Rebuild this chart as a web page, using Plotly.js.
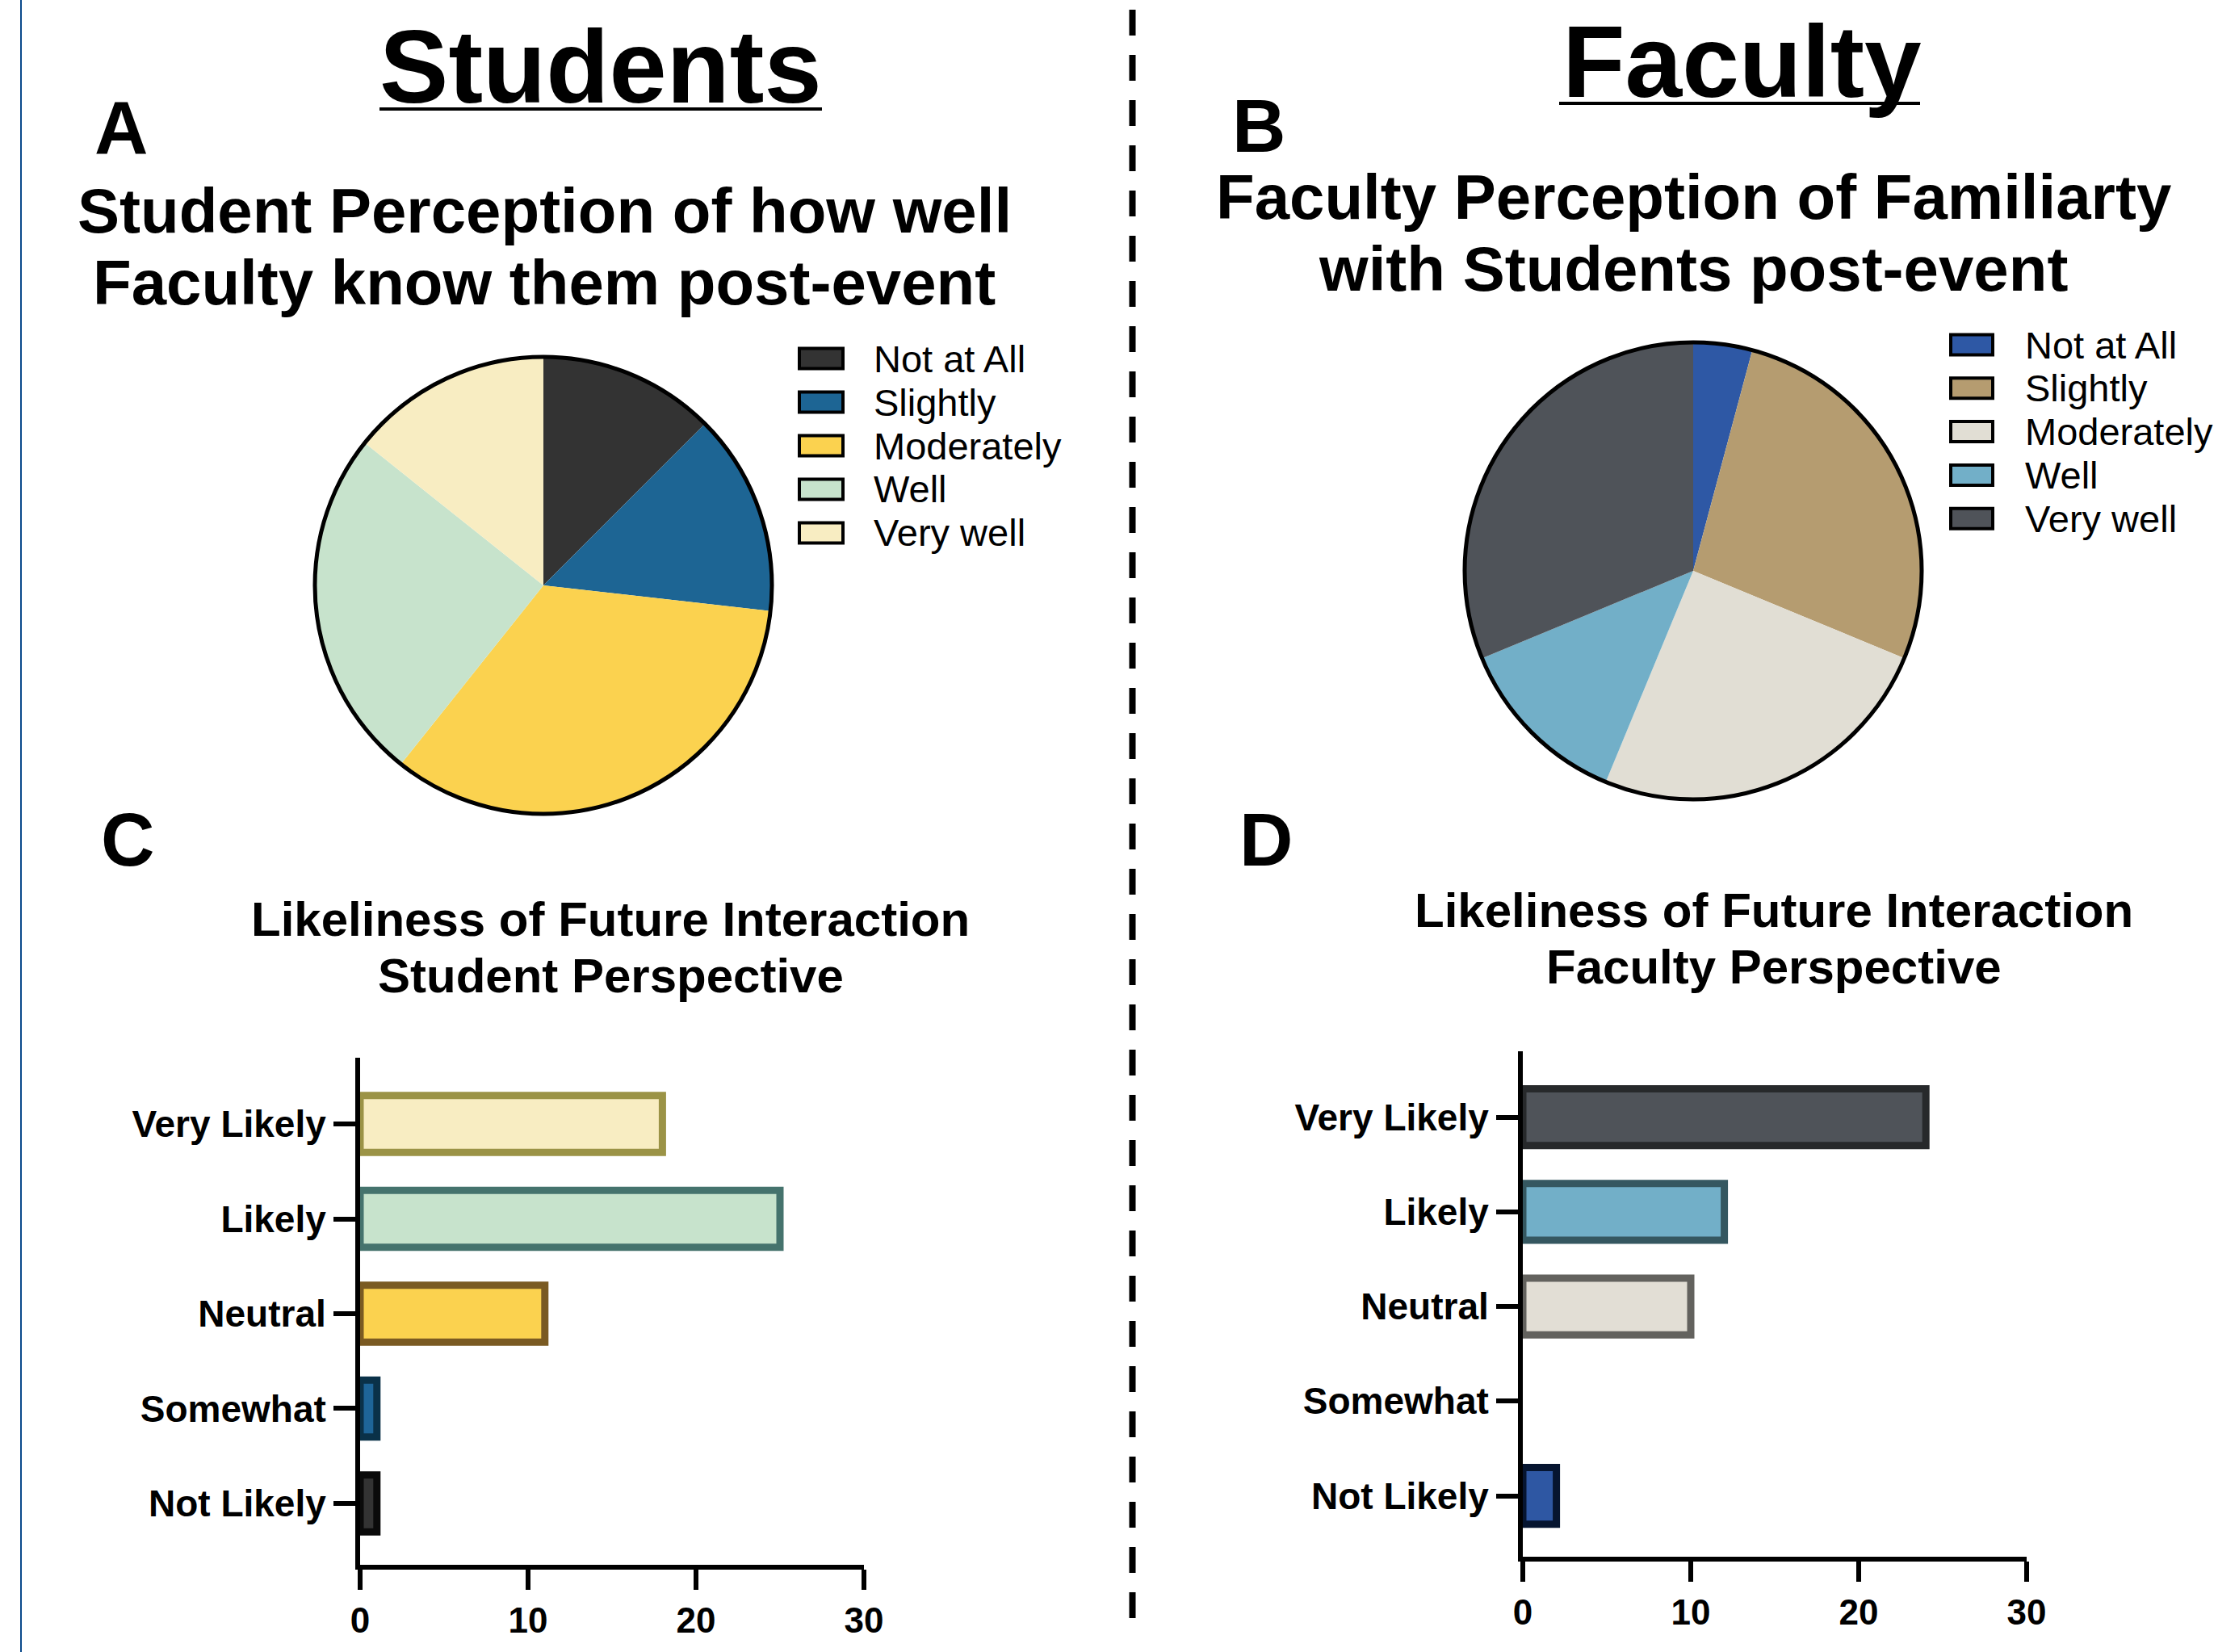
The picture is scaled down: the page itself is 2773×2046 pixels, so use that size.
<!DOCTYPE html>
<html>
<head>
<meta charset="utf-8">
<script src="https://cdn.plot.ly/plotly-3.0.1.min.js"></script>
<style>
html,body{margin:0;padding:0;background:#ffffff;}
#chart{width:2773px;height:2046px;}
</style>
</head>
<body>
<div id="chart"></div>
<script>
// ---------------- DATA ----------------
const pieLabels = ['Not at All', 'Slightly', 'Moderately', 'Well', 'Very well'];
const studentPieValues = [7, 8, 19, 14, 8];
const facultyPieValues = [2, 13, 12, 6, 15];
const studentPieColors = ['#333333', '#1D6594', '#FBD24F', '#C7E3CC', '#F8EDC2'];
const facultyPieColors = ['#2E58A5', '#B59C70', '#E1DED4', '#72AFC8', '#4F5359'];

const likertLabels = ['Not Likely', 'Somewhat', 'Neutral', 'Likely', 'Very Likely'];
const studentBarValues = [1, 1, 11, 25, 18];
const facultyBarValues = [2, 0, 10, 12, 24];
const studentBarFill = ['#333333', '#1E6598', '#FBD24F', '#C7E3CC', '#F8EDC2'];
const studentBarEdge = ['#0A0A0A', '#0A3148', '#7A5A22', '#45736D', '#9B9346'];
const facultyBarFill = ['#2E57A3', '#E2DED5', '#E2DED5', '#72AFC8', '#4F5359'];
const facultyBarEdge = ['#061530', '#63625E', '#63625E', '#355760', '#27292B'];

const xTickValues = [0, 10, 20, 30];

const headingStudents = 'Students';
const headingFaculty = 'Faculty';
const panelLetters = ['A', 'B', 'C', 'D'];
const titleA = ['Student Perception of how well', 'Faculty know them post-event'];
const titleB = ['Faculty Perception of Familiarty', 'with Students post-event'];
const titleC = ['Likeliness of Future Interaction', 'Student Perspective'];
const titleD = ['Likeliness of Future Interaction', 'Faculty Perspective'];

// ---------------- LAYOUT HELPERS ----------------
const W = 2773, H = 2046;
const FONT = 'Liberation Sans, Arial, Helvetica, sans-serif';
const px = v => v / W;
const py = v => 1 - v / H;

function pieDomain(cx, cy, r) {
  return { x: [px(cx - r), px(cx + r)], y: [py(cy + r), py(cy - r)] };
}

const annotations = [];
const shapes = [];

function textAt(text, cx, baseline, size, bold, anchor) {
  annotations.push({
    text: text, xref: 'paper', yref: 'paper',
    x: px(cx), y: py(baseline - 0.3465 * size),
    xanchor: anchor || 'center', yanchor: 'middle',
    showarrow: false,
    font: { family: FONT, size: size, color: '#000000', weight: bold ? 700 : 400 }
  });
}

// Headings
textAt(headingStudents, 744, 127, 128, true);
textAt(headingFaculty, 2157, 120, 127, true);
shapes.push({ type: 'line', xref: 'paper', yref: 'paper', x0: px(470), x1: px(1018), y0: py(135), y1: py(135), line: { color: '#000', width: 4 } });
shapes.push({ type: 'line', xref: 'paper', yref: 'paper', x0: px(1931), x1: px(2378), y0: py(128), y1: py(128), line: { color: '#000', width: 4 } });

// Panel letters
textAt(panelLetters[0], 150, 190, 92, true);
textAt(panelLetters[1], 1559, 188, 92, true);
textAt(panelLetters[2], 158, 1072, 92, true);
textAt(panelLetters[3], 1568, 1072, 92, true);

// Chart titles
textAt(titleA[0], 674, 288, 78, true);
textAt(titleA[1], 674, 377, 78, true);
textAt(titleB[0], 2097, 271, 78, true);
textAt(titleB[1], 2097, 360, 78, true);
textAt(titleC[0], 756, 1159, 60, true);
textAt(titleC[1], 756, 1229, 60, true);
textAt(titleD[0], 2197, 1148, 60, true);
textAt(titleD[1], 2197, 1218, 60, true);

// Legends (built from the category and colour arrays)
function legend(colors, swX0, swX1, textX, firstY, step) {
  pieLabels.forEach((lab, i) => {
    const cy = firstY + step * i;
    shapes.push({ type: 'rect', xref: 'paper', yref: 'paper',
      x0: px(swX0), x1: px(swX1), y0: py(cy + 12.5), y1: py(cy - 12.5),
      fillcolor: colors[i], line: { color: '#000000', width: 4 } });
    annotations.push({
      text: lab, xref: 'paper', yref: 'paper', x: px(textX), y: py(cy),
      xanchor: 'left', yanchor: 'middle', showarrow: false,
      font: { family: FONT, size: 47, color: '#000000' }
    });
  });
}
legend(studentPieColors, 990, 1044, 1080, 444, 54);
legend(facultyPieColors, 2416, 2468, 2506, 427, 53.8);

// Separators
shapes.push({ type: 'line', xref: 'paper', yref: 'paper', x0: px(26), x1: px(26), y0: 1, y1: 0, line: { color: '#0B4A8B', width: 2 } });
shapes.push({ type: 'line', xref: 'paper', yref: 'paper', x0: px(1402.5), x1: px(1402.5), y0: py(12), y1: py(2004), line: { color: '#000000', width: 8, dash: '32px,24px' } });

// ---------------- TRACES ----------------
const domA = pieDomain(673, 725, 283);
const domB = pieDomain(2097, 707, 283);
const edgeWidths = vals => vals.map(v => (v > 0 ? 9 : 0));

const traces = [
  { type: 'pie', labels: pieLabels, values: studentPieValues, domain: domA,
    marker: { colors: studentPieColors, line: { width: 0 } },
    sort: false, direction: 'clockwise', rotation: 0, textinfo: 'none',
    hoverinfo: 'label+value', showlegend: false },
  { type: 'pie', labels: ['outline'], values: [1], domain: domA,
    marker: { colors: ['rgba(0,0,0,0)'], line: { color: '#000000', width: 5 } },
    textinfo: 'none', hoverinfo: 'skip', showlegend: false },
  { type: 'pie', labels: pieLabels, values: facultyPieValues, domain: domB,
    marker: { colors: facultyPieColors, line: { width: 0 } },
    sort: false, direction: 'clockwise', rotation: 0, textinfo: 'none',
    hoverinfo: 'label+value', showlegend: false },
  { type: 'pie', labels: ['outline'], values: [1], domain: domB,
    marker: { colors: ['rgba(0,0,0,0)'], line: { color: '#000000', width: 5 } },
    textinfo: 'none', hoverinfo: 'skip', showlegend: false },
  { type: 'bar', orientation: 'h', y: likertLabels, x: studentBarValues,
    xaxis: 'x', yaxis: 'y', showlegend: false,
    marker: { color: studentBarFill, line: { color: studentBarEdge, width: edgeWidths(studentBarValues) } } },
  { type: 'bar', orientation: 'h', y: likertLabels, x: facultyBarValues,
    xaxis: 'x2', yaxis: 'y2', showlegend: false,
    marker: { color: facultyBarFill, line: { color: facultyBarEdge, width: edgeWidths(facultyBarValues) } } }
];

function xAxis(d0, d1, anchor) {
  return {
    domain: [px(d0), px(d1)], anchor: anchor, range: [0, 30],
    tickmode: 'array', tickvals: xTickValues, ticktext: xTickValues.map(String),
    ticks: 'outside', ticklen: 25, tickwidth: 6, tickcolor: '#000000',
    showline: true, linewidth: 6, linecolor: '#000000',
    showgrid: false, zeroline: false, fixedrange: true,
    tickfont: { family: FONT, size: 44, color: '#000000', weight: 700 }
  };
}
function yAxis(top, bottom, r0, r1, anchor) {
  return {
    domain: [py(bottom), py(top)], anchor: anchor, type: 'category',
    categoryorder: 'array', categoryarray: likertLabels, range: [r0, r1],
    ticks: 'outside', ticklen: 27, tickwidth: 6, tickcolor: '#000000',
    showline: true, linewidth: 6, linecolor: '#000000',
    showgrid: false, zeroline: false, fixedrange: true,
    tickfont: { family: FONT, size: 46, color: '#000000', weight: 700 }
  };
}

const layout = {
  width: W, height: H,
  margin: { l: 0, r: 0, t: 0, b: 0, pad: 0 },
  paper_bgcolor: '#ffffff', plot_bgcolor: 'rgba(0,0,0,0)',
  showlegend: false, bargap: 0.4,
  font: { family: FONT, color: '#000000' },
  xaxis: xAxis(446, 1070, 'y'),
  yaxis: yAxis(1310, 1938, -0.647, 4.698, 'x'),
  xaxis2: xAxis(1886, 2510, 'y2'),
  yaxis2: yAxis(1301.5, 1928, -0.643, 4.700, 'x2'),
  annotations: annotations,
  shapes: shapes
};

Plotly.newPlot('chart', traces, layout, { staticPlot: true, displayModeBar: false });
</script>
</body>
</html>
